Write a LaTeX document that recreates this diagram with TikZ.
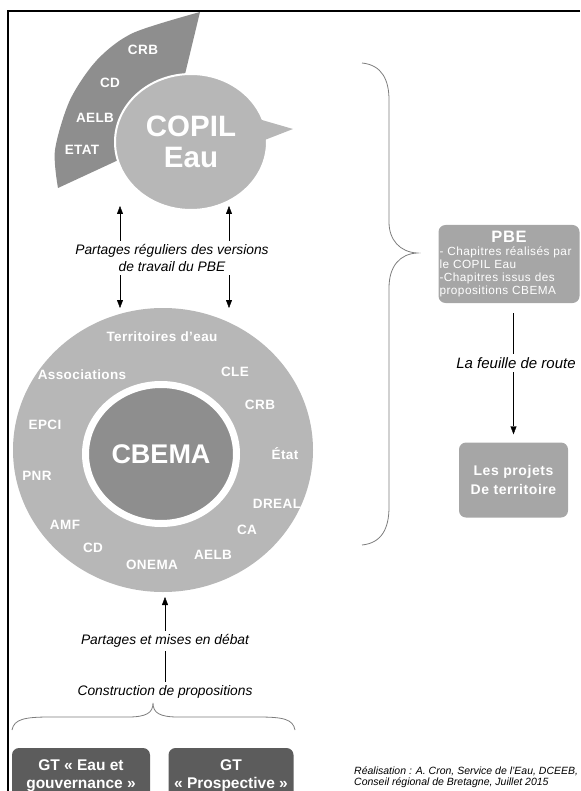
\documentclass[tikz,border=0pt]{standalone}
\usepackage{fontspec}
\setmainfont{Liberation Sans}
\usetikzlibrary{positioning, shapes.geometric, arrows.meta}
\definecolor{grisclair}{RGB}{183,183,183}
\definecolor{grisfonce}{RGB}{142,142,142}
\definecolor{grisboite}{RGB}{166,166,166}
\definecolor{grisgt}{RGB}{92,92,92}
\definecolor{grisaccolade}{RGB}{125,125,125}
\tikzset{
	acteur/.style={
		text=white,
		font=\fontsize{13.5}{15}\selectfont\bfseries\addfontfeatures{LetterSpace=3},
		inner sep=0pt,
	},
	legende/.style={
		font=\fontsize{13.8}{17}\selectfont\itshape,
		align=center,
	},
	boite/.style={
		rectangle,
		rounded corners=7pt,
		fill=grisboite,
		text=white,
		align=center,
	},
	gt/.style={
		rectangle,
		rounded corners=7pt,
		fill=grisgt,
		text=white,
		align=center,
		minimum height=56pt,
		font=\fontsize{15.5}{18}\selectfont\bfseries,
	},
	accolade/.style={
		draw=grisaccolade,
		line width=0.8pt,
	},
}

\begin{document}
\begin{tikzpicture}[x=1pt, y=-1pt, >={Triangle[length=8pt,width=6pt]}]
		
		\useasboundingbox (0,0) rectangle (580,791);
		\clip (0,0) rectangle (580,791);
		\draw [line width=1.5pt] (580,11) -- (8,11) -- (8,791);
		
		% COPIL Eau
		\fill [grisfonce] plot [smooth] coordinates {(200,12) (133,33) (97,60) (70,100) (55,150) (58,188)} -- (140,150) -- (180,95) -- cycle;
		\node [acteur] (crbA) at (143,50) {CRB};
		\node [acteur] (cdA) at (110,83) {CD};
		\node [acteur] (aelbA) at (95,118) {AELB};
		\node [acteur] (etatA) at (82,150) {ETAT};
		\node [ellipse, fill=grisclair, draw=white, line width=2pt, minimum width=152pt, minimum height=136pt, text=white, align=center, font=\fontsize{29.5}{31}\selectfont\bfseries] (copil) at (191,142) {COPIL\\Eau};
		\fill [grisclair] (255,118) -- (293,129) -- (257,143) -- cycle;
		
		% CBEMA
		\node [ellipse, fill=grisclair, minimum width=300pt, minimum height=284pt] (cercle) at (163,450) {};
		\node [ellipse, fill=grisfonce, draw=white, line width=7pt, minimum width=151pt, minimum height=139pt, text=white, font=\fontsize{27}{27}\selectfont\bfseries] (cbema) at (161,454) {CBEMA};
		\node [acteur] (territoires) at (162,337) {Territoires d'eau};
		\node [acteur] (associations) at (82,375) {Associations};
		\node [acteur] (cle) at (235,372) {CLE};
		\node [acteur] (crbB) at (260,405) {CRB};
		\node [acteur] (epci) at (45,425) {EPCI};
		\node [acteur] (etatB) at (285,454) {État};
		\node [acteur] (pnr) at (37,476) {PNR};
		\node [acteur] (dreal) at (277,504) {DREAL};
		\node [acteur] (ca) at (247,530) {CA};
		\node [acteur] (amf) at (65,525) {AMF};
		\node [acteur] (cdB) at (93,548) {CD};
		\node [acteur] (aelbB) at (213,555) {AELB};
		\node [acteur] (onema) at (152,565) {ONEMA};
		
		% echanges
		\node [legende] (partage) at (172,258) {Partages réguliers des versions\\de travail du PBE};
		\coordinate (copilG) at (120,206);
		\coordinate (copilD) at (229,206);
		\coordinate (cbemaG) at (120,308);
		\coordinate (cbemaD) at (229,308);
		\draw [->] (partage.north -| copilG) -- (copilG);
		\draw [->] (partage.north -| copilD) -- (copilD);
		\draw [->] (partage.south -| cbemaG) -- (cbemaG);
		\draw [->] (partage.south -| cbemaD) -- (cbemaD);
		
		\node [legende] (debat) at (165,641) {Partages et mises en débat};
		\node [legende] (construction) at (165,692) {Construction de propositions};
		\coordinate (cbemaB) at (165,597);
		\draw [->] (debat.north) -- (cbemaB);
		\draw (debat) -- (construction);
		
		% groupes de travail
		\draw [accolade] (12,730) .. controls (14,719) and (25,717) .. (50,717) -- (128,717) .. controls (146,717) and (153,713) .. (153,703) .. controls (153,713) and (160,717) .. (178,717) -- (258,717) .. controls (283,717) and (293,719) .. (295,730);
		\node [gt, minimum width=138pt] (gtEau) at (81,776) {GT «~Eau et\\gouvernance~»};
		\node [gt, minimum width=125pt] (gtProsp) at (231,776) {GT\\«~Prospective~»};
		\node [anchor=west, align=left, inner sep=0pt, font=\fontsize{10.5}{11.5}\selectfont\itshape] (credit) at (354,777) {Réalisation : A. Cron, Service de l'Eau, DCEEB,\\Conseil régional de Bretagne, Juillet 2015};
		
		% PBE
		\draw [accolade] (362,63) .. controls (382,65) and (389,80) .. (389,100) -- (389,222) .. controls (389,240) and (400,252) .. (417,253) .. controls (400,254) and (389,266) .. (389,288) -- (389,507) .. controls (389,528) and (382,543) .. (362,545);
		\node [boite, minimum width=140pt, minimum height=78pt, text width=139pt, inner xsep=1pt, align=left, font=\fontsize{11.8}{12.8}\selectfont\addfontfeatures{LetterSpace=4}] (pbe) at (509,264) {\makebox[\linewidth]{\fontsize{16.5}{16}\selectfont\bfseries PBE}\\- Chapitres réalisés par\\ le COPIL Eau\\-Chapitres issus des\\propositions CBEMA};
		\node [legende, font=\fontsize{15}{17}\selectfont\itshape] (feuille) at (516,363) {La feuille de route};
		\node [boite, minimum width=109pt, minimum height=75pt, font=\fontsize{14}{19}\selectfont\bfseries\addfontfeatures{LetterSpace=4}] (projets) at (513.5,480) {Les projets\\De territoire};
		\draw [shorten <=10pt] (pbe.south -| projets) -- (feuille.north -| projets);
		\draw [->, shorten >=8pt] (feuille.south -| projets) -- (projets);
	\end{tikzpicture}
\end{document}
